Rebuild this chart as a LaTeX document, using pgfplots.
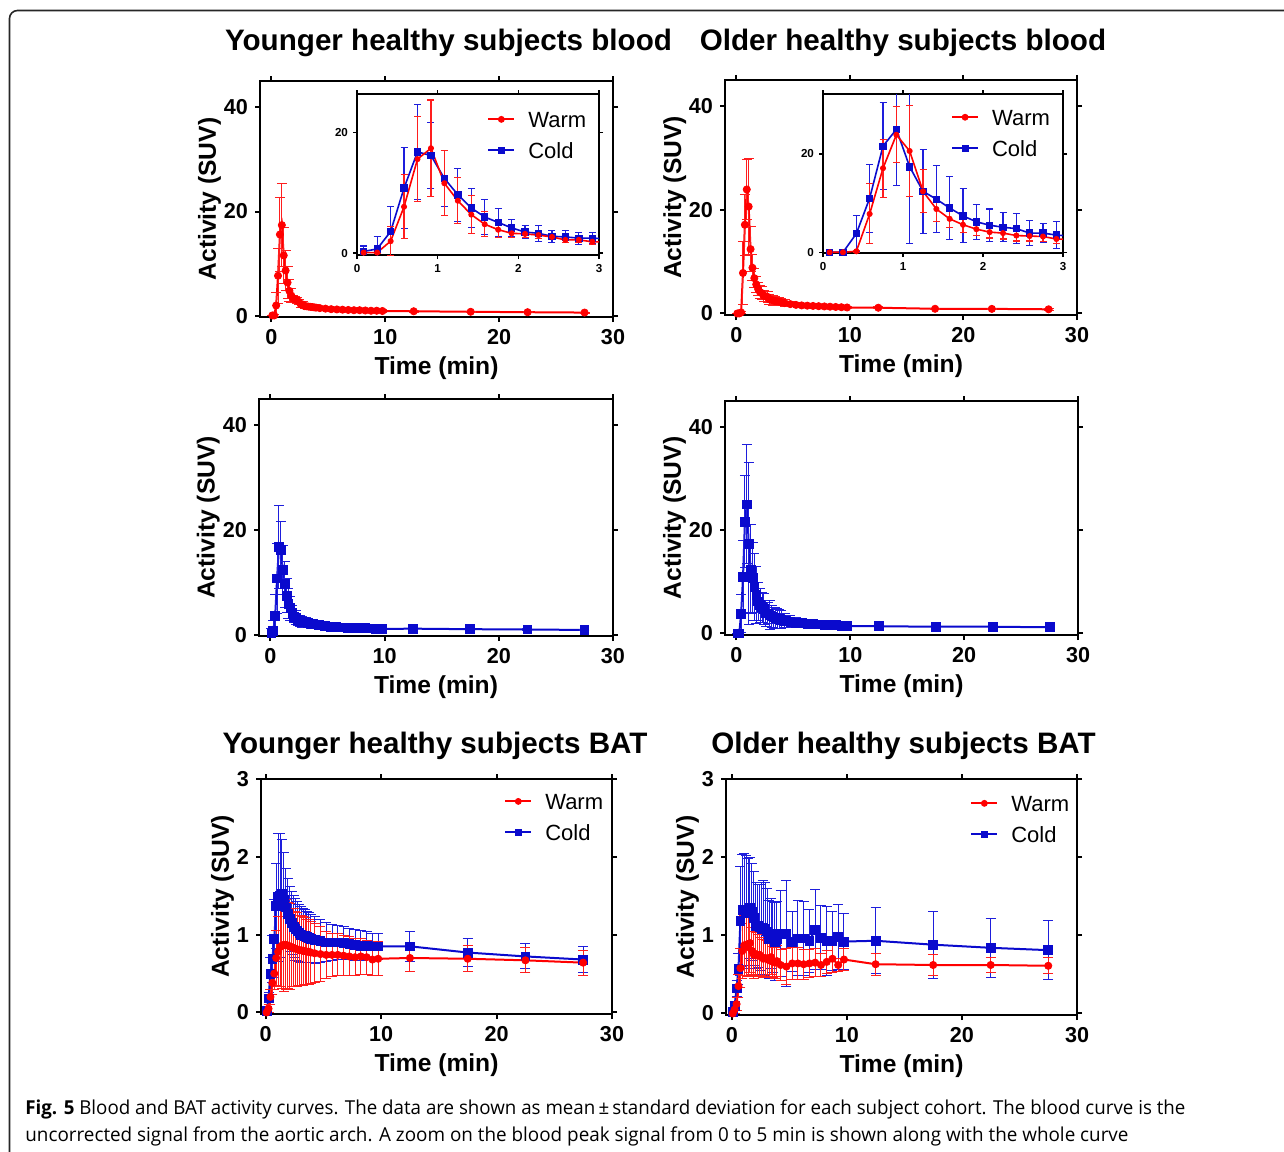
\documentclass[border=0pt]{standalone}
\usepackage{pgfplots}
\pgfplotsset{compat=1.18}
\usepackage{pgfplotstable}
\usepackage{graphicx}
\usepackage{fontspec}
\setmainfont{Liberation Sans}
\newfontfamily\capfont{Open Sans}
\definecolor{cRed}{RGB}{255,0,0}
\definecolor{cBlue}{RGB}{10,10,205}
\definecolor{eRed}{RGB}{255,30,30}
\definecolor{eBlue}{RGB}{30,30,220}

% Younger blood, warm
\pgfplotstableread{
t y e
0.083 0.1 0
0.25 0.1 0.2
0.417 2.0 2.4
0.583 7.7 5.3
0.75 15.6 7.1
0.917 17.4 8.0
1.083 11.6 5.4
1.25 8.7 3.8
1.417 6.4 3.1
1.583 4.8 2.1
1.75 3.9 1.3
1.917 3.3 0.7
2.083 3.2 0.6
2.25 3.0 0.6
2.417 2.7 0.5
2.583 2.2 0.5
2.75 2.2 0.5
2.917 1.9 0.5
3.083 1.85 0.5
3.25 1.8 0.5
3.417 1.75 0.5
3.583 1.7 0.45
3.75 1.65 0.45
3.917 1.6 0.4
4.25 1.5 0.35
4.75 1.4 0.3
5.25 1.3 0.25
5.75 1.25 0.2
6.25 1.2 0.2
6.75 1.15 0.2
7.25 1.1 0.2
7.75 1.1 0.2
8.25 1.05 0.2
8.75 1.0 0.2
9.25 1.0 0.2
9.75 0.95 0.2
12.5 0.9 0.15
17.5 0.8 0.15
22.5 0.72 0.1
27.5 0.65 0.1
}\YW
% Younger blood, cold
\pgfplotstableread{
t y e
0.083 0.3 0.9
0.25 0.7 2.0
0.417 3.6 4.2
0.583 10.8 6.7
0.75 16.8 7.9
0.917 16.2 5.4
1.083 12.4 4.6
1.25 9.7 4.4
1.417 7.5 3.3
1.583 6.0 2.85
1.75 5.1 2.3
1.917 4.2 1.4
2.083 3.5 1.1
2.25 3.3 1.3
2.417 2.8 1.0
2.583 2.7 1.0
2.75 2.5 1.0
2.917 2.5 0.9
3.083 2.4 0.9
3.25 2.3 0.85
3.417 2.2 0.8
3.583 2.1 0.8
3.75 2.05 0.75
3.917 2.0 0.7
4.25 1.85 0.6
4.75 1.7 0.5
5.25 1.6 0.45
5.75 1.5 0.4
6.25 1.45 0.35
6.75 1.4 0.3
7.25 1.35 0.3
7.75 1.3 0.3
8.25 1.3 0.3
8.75 1.25 0.3
9.25 1.2 0.3
9.75 1.15 0.3
12.5 1.2 0.2
17.5 1.1 0.2
22.5 1.05 0.2
27.5 0.95 0.15
}\YC
% Older blood, warm
\pgfplotstableread{
t y e
0.083 0 0
0.25 0 0
0.417 0.2 0.2
0.583 7.8 6.1
0.75 17.1 5.9
0.917 23.9 5.7
1.083 20.6 9.3
1.25 12.4 4.4
1.417 8.8 2.5
1.583 6.8 1.8
1.75 5.6 1.5
1.917 4.7 1.3
2.083 4.1 1.2
2.25 3.9 1.2
2.417 3.4 1.1
2.583 3.3 1.0
2.75 3.2 1.0
2.917 2.7 0.9
3.083 2.6 0.9
3.25 2.5 0.9
3.417 2.4 0.85
3.583 2.35 0.8
3.75 2.3 0.8
3.917 2.2 0.75
4.25 2.0 0.6
4.75 1.8 0.5
5.25 1.65 0.4
5.75 1.55 0.35
6.25 1.5 0.3
6.75 1.45 0.3
7.25 1.4 0.3
7.75 1.35 0.3
8.25 1.3 0.25
8.75 1.25 0.25
9.25 1.2 0.25
9.75 1.15 0.2
12.5 1.1 0.2
17.5 0.9 0.15
22.5 0.88 0.15
27.5 0.8 0.15
}\OW
% Older blood, cold
\pgfplotstableread{
t y e
0.083 0 0
0.25 0 0
0.417 3.8 3.7
0.583 11.0 6.9
0.75 21.6 8.9
0.917 25.0 11.5
1.083 17.4 15.7
1.25 12.4 8.6
1.417 10.8 6.8
1.583 9.0 6.4
1.75 7.4 5.5
1.917 6.2 3.6
2.083 5.5 3.3
2.25 5.1 2.9
2.417 4.8 3.0
2.583 3.9 2.5
2.75 3.9 2.0
2.917 3.5 2.8
3.083 3.3 2.2
3.25 3.1 2.0
3.417 3.0 2.0
3.583 2.9 1.9
3.75 2.8 1.8
3.917 2.7 1.7
4.25 2.5 1.4
4.75 2.3 1.2
5.25 2.1 1.0
5.75 2.0 0.9
6.25 1.9 0.8
6.75 1.8 0.7
7.25 1.75 0.6
7.75 1.7 0.6
8.25 1.65 0.5
8.75 1.6 0.5
9.25 1.5 0.45
9.75 1.45 0.4
12.5 1.4 0.3
17.5 1.3 0.25
22.5 1.3 0.25
27.5 1.2 0.2
}\OC
% Younger BAT, warm
\pgfplotstableread{
t y e
0.083 0.0 0.02
0.25 0.05 0.05
0.417 0.2 0.1
0.583 0.38 0.15
0.75 0.5 0.2
0.917 0.7 0.35
1.083 0.78 0.45
1.25 0.84 0.5
1.417 0.86 0.55
1.583 0.87 0.6
1.75 0.87 0.58
1.917 0.86 0.55
2.083 0.85 0.55
2.25 0.84 0.5
2.417 0.83 0.5
2.583 0.82 0.48
2.75 0.81 0.47
2.917 0.8 0.45
3.083 0.8 0.45
3.25 0.79 0.44
3.417 0.79 0.43
3.583 0.78 0.42
3.75 0.78 0.42
3.917 0.77 0.4
4.25 0.76 0.38
4.75 0.75 0.35
5.25 0.74 0.3
5.75 0.74 0.28
6.25 0.74 0.27
6.75 0.73 0.26
7.25 0.72 0.25
7.75 0.71 0.24
8.25 0.72 0.23
8.75 0.71 0.22
9.25 0.68 0.21
9.75 0.69 0.22
12.5 0.7 0.18
17.5 0.69 0.17
22.5 0.67 0.16
27.5 0.64 0.16
}\BYW
% Younger BAT, cold
\pgfplotstableread{
t y e
0.083 0.02 0.02
0.25 0.18 0.08
0.417 0.5 0.2
0.583 0.69 0.3
0.75 0.95 0.5
0.917 1.37 0.55
1.083 1.48 0.82
1.25 1.5 0.8
1.417 1.52 0.7
1.583 1.45 0.6
1.75 1.35 0.5
1.917 1.27 0.45
2.083 1.2 0.42
2.25 1.15 0.4
2.417 1.1 0.4
2.583 1.07 0.4
2.75 1.05 0.38
2.917 1.02 0.37
3.083 1.0 0.36
3.25 0.99 0.35
3.417 0.98 0.34
3.583 0.97 0.33
3.75 0.96 0.32
3.917 0.95 0.31
4.25 0.93 0.3
4.75 0.92 0.28
5.25 0.9 0.25
5.75 0.9 0.23
6.25 0.9 0.22
6.75 0.89 0.21
7.25 0.88 0.2
7.75 0.87 0.2
8.25 0.86 0.19
8.75 0.86 0.18
9.25 0.85 0.17
9.75 0.85 0.17
12.5 0.85 0.19
17.5 0.77 0.18
22.5 0.72 0.16
27.5 0.68 0.17
}\BYC
% Older BAT, warm
\pgfplotstableread{
t y e
0.083 0.0 0.02
0.25 0.05 0.05
0.417 0.12 0.08
0.583 0.35 0.15
0.75 0.58 0.25
0.917 0.8 0.35
1.083 0.87 0.38
1.25 0.88 0.4
1.417 0.85 0.38
1.583 0.9 0.37
1.75 0.8 0.3
1.917 0.75 0.3
2.083 0.76 0.28
2.25 0.74 0.27
2.417 0.75 0.26
2.583 0.72 0.25
2.75 0.7 0.24
2.917 0.71 0.24
3.083 0.7 0.23
3.25 0.68 0.22
3.417 0.72 0.22
3.583 0.66 0.2
3.75 0.65 0.2
3.917 0.67 0.2
4.25 0.62 0.2
4.75 0.6 0.23
5.25 0.64 0.2
5.75 0.64 0.2
6.25 0.63 0.19
6.75 0.64 0.18
7.25 0.65 0.18
7.75 0.62 0.15
8.25 0.66 0.15
8.75 0.7 0.18
9.25 0.62 0.08
9.75 0.69 0.14
12.5 0.63 0.14
17.5 0.62 0.13
22.5 0.62 0.1
27.5 0.61 0.1
}\BOW
% Older BAT, cold
\pgfplotstableread{
t y e
0.083 0.02 0.02
0.25 0.1 0.05
0.417 0.32 0.1
0.583 0.57 0.2
0.75 1.18 0.7
0.917 1.32 0.72
1.083 1.33 0.72
1.25 1.3 0.72
1.417 1.28 0.7
1.583 1.35 0.65
1.75 1.3 0.62
1.917 1.22 0.6
2.083 1.12 0.55
2.25 1.12 0.53
2.417 1.1 0.55
2.583 1.08 0.6
2.75 1.1 0.6
2.917 1.08 0.6
3.083 1.05 0.55
3.25 0.95 0.5
3.417 1.02 0.45
3.583 0.98 0.45
3.75 0.92 0.5
3.917 0.95 0.48
4.25 1.02 0.55
4.75 1.02 0.68
5.25 0.92 0.38
5.75 0.96 0.48
6.25 0.96 0.47
6.75 0.93 0.4
7.25 1.07 0.51
7.75 0.97 0.41
8.25 0.93 0.44
8.75 0.93 0.38
9.25 0.98 0.42
9.75 0.92 0.36
12.5 0.93 0.42
17.5 0.88 0.43
22.5 0.84 0.38
27.5 0.81 0.38
}\BOC

\pgfplotsset{
  base/.style={
    scale only axis, tick align=outside, tick pos=both,
    axis line style={line width=1.2pt},
    every tick/.style={black, line width=1pt},
    major tick length=2.5pt,
    xmax=30, xtick={0,10,20,30},
    /pgf/number format/assume math mode=true,
    tick label style={font=\bfseries\fontsize{10.8}{12}\selectfont},
    label style={font=\bfseries\fontsize{12.3}{14}\selectfont},
    xlabel={Time (min)}, ylabel={Activity (SUV)},
    xlabel style={at={(axis description cs:0.5,0)}, anchor=center, yshift=-25.5pt},
    axis background/.style={fill=white},
  },
  blood/.style={base, xmin=-1, ymax=45, ytick={0,20,40},
    ylabel style={at={(axis description cs:-0.143,0.5)}, anchor=center}},
  bat/.style={base, ymin=-0.02, ymax=3, ytick={0,1,2,3},
    ylabel style={at={(axis description cs:-0.11,0.5)}, anchor=center}},
  inset/.style={scale only axis, tick align=outside, tick pos=both,
    axis line style={line width=0.75pt},
    every tick/.style={black, line width=0.7pt},
    major tick length=2pt,
    xmin=0, xmax=3, xtick={0,1,2,3}, ytick={0,20},
    /pgf/number format/assume math mode=true,
    tick label style={font=\bfseries\fontsize{5.8}{7}\selectfont},
    xticklabel style={yshift=1pt}, yticklabel style={xshift=1pt},
    axis background/.style={fill=white}},
  leg/.style={legend cell align=left, reverse legend,
    legend style={draw=none, fill=none, inner sep=0pt, column sep=6.5pt,
      row sep=7.6pt, font=\fontsize{11}{13}\selectfont,
      nodes={inner sep=0pt, text height=7.9pt, text depth=0pt}, anchor=north west},
    legend image code/.code={\draw[mark repeat=2, mark phase=2, mark size=1.5pt, line width=1pt]
      plot coordinates {(0pt,0pt) (6.5pt,0pt) (13pt,0pt)};}},
  warm/.style={cRed, line width=1pt, mark=*, mark size=1.8pt,
    mark options={solid, fill=cRed, draw=cRed, line width=0.4pt},
    error bars/y dir=both, error bars/y explicit,
    error bars/error bar style={line width=0.5pt, color=eRed},
    error bars/error mark options={rotate=90, mark size=2.5pt, line width=0.5pt, color=eRed}},
  cold/.style={cBlue, line width=1pt, mark=square*, mark size=2.2pt,
    mark options={solid, fill=cBlue, draw=cBlue, line width=0.4pt},
    error bars/y dir=both, error bars/y explicit,
    error bars/error bar style={line width=0.5pt, color=eBlue},
    error bars/error mark options={rotate=90, mark size=2.5pt, line width=0.5pt, color=eBlue}},
  iwarm/.style={warm, line width=0.8pt, mark size=1.3pt,
    error bars/error mark options={rotate=90, mark size=1.75pt, line width=0.55pt, color=eRed},
    error bars/error bar style={line width=0.55pt, color=eRed}},
  icold/.style={cold, line width=0.8pt, mark size=1.6pt,
    error bars/error mark options={rotate=90, mark size=1.75pt, line width=0.55pt, color=eBlue},
    error bars/error bar style={line width=0.55pt, color=eBlue}},
}

\begin{document}
\begin{tikzpicture}
\useasboundingbox (0,0) rectangle (642pt,-575.5pt);
\draw[line width=0.8pt, rounded corners=4pt, black!85] (660pt,-5.25pt) -- (4.75pt,-5.25pt) -- (4.75pt,-600pt);

\begin{scope}[every node/.style={font=\bfseries\fontsize{14.8}{17}\selectfont, anchor=base}]
\node at (224.25pt,-25pt) {Younger healthy subjects blood};
\node at (451.5pt,-25pt) {Older healthy subjects blood};
\node at (217.5pt,-376.5pt) {Younger healthy subjects BAT};
\node at (451.75pt,-376.5pt) {Older healthy subjects BAT};
\end{scope}

% Top-left: younger blood warm
\begin{axis}[blood, at={(130pt,-158.5pt)}, anchor=south west, width=176.5pt, height=118pt, ymin=-0.2]
\addplot[warm] table[x=t, y=y, y error=e] {\YW};
\end{axis}
\begin{axis}[inset, leg, at={(178.5pt,-127.5pt)}, anchor=south west, width=121pt, height=80.5pt,
  ymin=-0.3, ymax=26.4, legend style={at={(0.537,0.894)}}]
\addplot[icold] table[x=t, y=y, y error=e] {\YC};
\addlegendentry{Cold}
\addplot[iwarm] table[x=t, y=y, y error=e] {\YW};
\addlegendentry{Warm}
\end{axis}

% Top-right: older blood warm
\begin{axis}[blood, at={(362.5pt,-157.5pt)}, anchor=south west, width=176pt, height=117.5pt, ymin=-0.3]
\addplot[warm] table[x=t, y=y, y error=e] {\OW};
\end{axis}
\begin{axis}[inset, leg, at={(411.5pt,-126.5pt)}, anchor=south west, width=120pt, height=79.5pt,
  ymin=-0.15, ymax=32.2, legend style={at={(0.532,0.906)}}]
\addplot[icold] table[x=t, y=y, y error=e] {\OC};
\addlegendentry{Cold}
\addplot[iwarm] table[x=t, y=y, y error=e] {\OW};
\addlegendentry{Warm}
\end{axis}

% Middle-left: younger blood cold
\begin{axis}[blood, at={(129.5pt,-318pt)}, anchor=south west, width=177pt, height=118.5pt, ymin=-0.2]
\addplot[cold] table[x=t, y=y, y error=e] {\YC};
\end{axis}

% Middle-right: older blood cold
\begin{axis}[blood, at={(362.5pt,-317.5pt)}, anchor=south west, width=176.5pt, height=117pt, ymin=-0.3]
\addplot[cold] table[x=t, y=y, y error=e] {\OC};
\end{axis}

% Bottom-left: younger BAT
\begin{axis}[bat, leg, at={(130.5pt,-507pt)}, anchor=south west, width=175.5pt, height=117.5pt,
  xmin=-0.4, legend style={at={(0.692,0.94)}}]
\addplot[cold] table[x=t, y=y, y error=e] {\BYC};
\addlegendentry{Cold}
\addplot[warm] table[x=t, y=y, y error=e] {\BYW};
\addlegendentry{Warm}
\end{axis}

% Bottom-right: older BAT
\begin{axis}[bat, leg, at={(363pt,-507.5pt)}, anchor=south west, width=175.5pt, height=118pt,
  xmin=-0.5, legend style={at={(0.695,0.932)}}]
\addplot[cold] table[x=t, y=y, y error=e] {\BOC};
\addlegendentry{Cold}
\addplot[warm] table[x=t, y=y, y error=e] {\BOW};
\addlegendentry{Warm}
\end{axis}

\node[anchor=base west, inner sep=0pt] at (12.5pt,-557pt) {\resizebox{580pt}{\height}{\capfont\fontsize{9.6}{11}\selectfont\textbf{Fig. 5} Blood and BAT activity curves. The data are shown as mean\,±\,standard deviation for each subject cohort. The blood curve is the}};
\node[anchor=base west, inner sep=0pt] at (12.5pt,-570.5pt) {\resizebox{551.5pt}{\height}{\capfont\fontsize{9.6}{11}\selectfont uncorrected signal from the aortic arch. A zoom on the blood peak signal from 0 to 5 min is shown along with the whole curve}};
\end{tikzpicture}
\end{document}
